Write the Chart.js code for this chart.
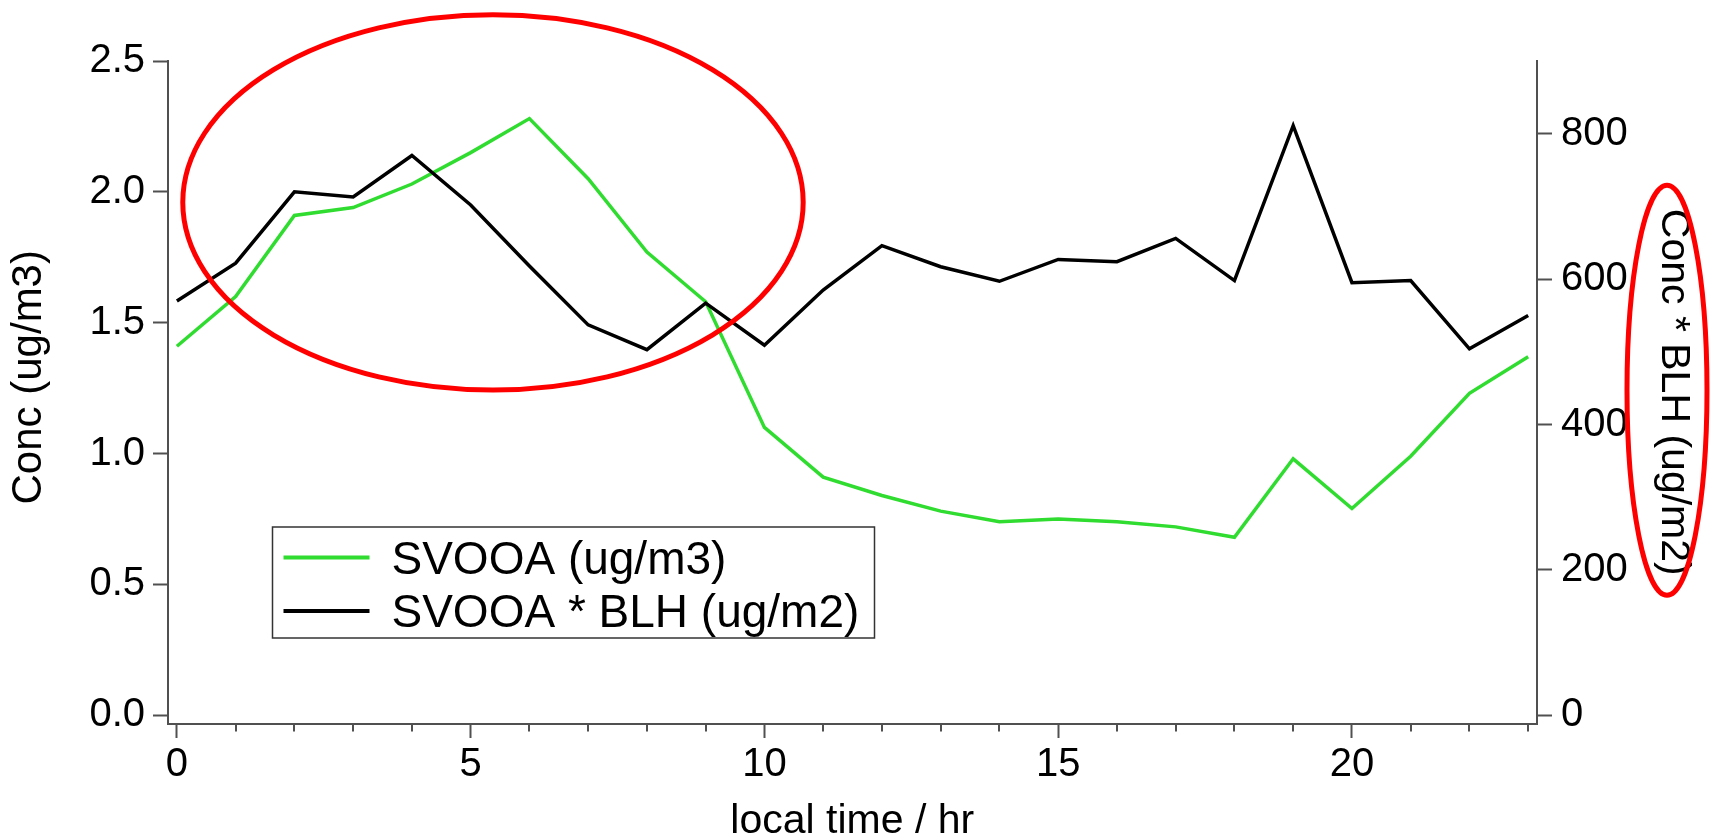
<!DOCTYPE html>
<html>
<head>
<meta charset="utf-8">
<script src="https://cdn.jsdelivr.net/npm/chart.js@4.4.1/dist/chart.umd.min.js"></script>
<style>
  html, body { margin: 0; padding: 0; background: #fff; }
  #wrap { width: 1719px; height: 839px; }
</style>
</head>
<body>
<div id="wrap"><canvas id="diurnalChart" width="1719" height="839"></canvas></div>
<script>
// diurnal cycle, hour of day (local time)
const hours = [0, 1, 2, 3, 4, 5, 6, 7, 8, 9, 10, 11, 12, 13, 14, 15, 16, 17, 18, 19, 20, 21, 22, 23];

// SVOOA concentration (ug/m3), left axis
const svooa = [1.41, 1.60, 1.91, 1.94, 2.03, 2.15, 2.28, 2.05, 1.77, 1.58, 1.10, 0.91,
               0.84, 0.78, 0.74, 0.75, 0.74, 0.72, 0.68, 0.98, 0.79, 0.99, 1.23, 1.37];

// SVOOA * boundary layer height (ug/m2), right axis
const svooaBlh = [570, 622, 720, 713, 770, 702, 618, 537, 503, 567, 509, 585,
                  646, 617, 597, 627, 624, 656, 598, 811, 595, 598, 504, 550];

const xMajorTicks = [0, 5, 10, 15, 20];
const leftTicks = [0, 0.5, 1.0, 1.5, 2.0, 2.5];
const rightTicks = [0, 200, 400, 600, 800];

const FONT = "'Liberation Sans', Arial, Helvetica, sans-serif";
const AXIS = '#505050';
const GREEN = '#2fdc2f';

// minor tick marks on the time axis, one per hour
const minorTicks = {
  id: 'minorTicks',
  afterDraw(chart) {
    const ctx = chart.ctx, x = chart.scales.x, y0 = chart.chartArea.bottom;
    ctx.save();
    ctx.strokeStyle = AXIS;
    ctx.lineWidth = 2;
    hours.forEach(h => {
      if (xMajorTicks.includes(h)) return;
      const px = Math.round(x.getPixelForValue(h));
      ctx.beginPath();
      ctx.moveTo(px, y0);
      ctx.lineTo(px, y0 + 8);
      ctx.stroke();
    });
    ctx.restore();
  }
};

// left axis title, sitting a little above the middle of the axis
const leftTitle = {
  id: 'leftTitle',
  afterDraw(chart) {
    const ctx = chart.ctx, y = chart.scales.y;
    ctx.save();
    ctx.translate(y.left + 29, (y.top + y.bottom) / 2 - 15);
    ctx.rotate(-Math.PI / 2);
    ctx.font = '42px ' + FONT;
    ctx.fillStyle = '#000';
    ctx.textAlign = 'center';
    ctx.textBaseline = 'middle';
    ctx.fillText('Conc (ug/m3)', 0, 0);
    ctx.restore();
  }
};

// boxed legend sitting inside the plot
const boxLegend = {
  id: 'boxLegend',
  afterDraw(chart) {
    const ctx = chart.ctx, area = chart.chartArea;
    const left = area.left + 105, top = area.top + 466, w = 602, h = 111;
    ctx.save();
    ctx.fillStyle = '#fff';
    ctx.fillRect(left, top, w, h);
    ctx.strokeStyle = '#333';
    ctx.lineWidth = 1.5;
    ctx.strokeRect(left, top, w, h);
    ctx.font = '46px ' + FONT;
    ctx.textBaseline = 'alphabetic';
    ctx.textAlign = 'left';
    const rows = [chart.data.datasets[0], chart.data.datasets[1]];
    rows.forEach((ds, i) => {
      const ly = top + 30.5 + i * 53.5;
      ctx.strokeStyle = ds.borderColor;
      ctx.lineWidth = 4;
      ctx.beginPath();
      ctx.moveTo(left + 11, ly);
      ctx.lineTo(left + 97, ly);
      ctx.stroke();
      ctx.fillStyle = '#000';
      ctx.fillText(ds.label, left + 119, ly + 16);
    });
    ctx.restore();
  }
};

// red ellipses marking the morning peak and the right-hand axis title
const highlights = {
  id: 'highlights',
  afterDraw(chart) {
    const ctx = chart.ctx, x = chart.scales.x, y = chart.scales.y, y1 = chart.scales.y1;
    ctx.save();
    ctx.strokeStyle = '#ff0000';
    ctx.lineWidth = 5;
    const cx = x.getPixelForValue(5.38), cy = y.getPixelForValue(1.96);
    const rx = x.getPixelForValue(5.38 + 5.28) - cx;
    const ry = cy - y.getPixelForValue(1.96 + 0.717);
    ctx.beginPath();
    ctx.ellipse(cx, cy, rx, ry, 0, 0, Math.PI * 2);
    ctx.stroke();
    ctx.beginPath();
    ctx.ellipse(y1.right - 52, (y1.top + y1.bottom) / 2 - 2, 40, 205, 0, 0, Math.PI * 2);
    ctx.stroke();
    ctx.restore();
  }
};

new Chart(document.getElementById('diurnalChart').getContext('2d'), {
  type: 'line',
  data: {
    datasets: [
      {
        label: 'SVOOA (ug/m3)',
        data: hours.map((h, i) => ({ x: h, y: svooa[i] })),
        yAxisID: 'y',
        borderColor: GREEN,
        borderWidth: 3.5,
        pointRadius: 0,
        tension: 0,
        order: 1
      },
      {
        label: 'SVOOA * BLH (ug/m2)',
        data: hours.map((h, i) => ({ x: h, y: svooaBlh[i] })),
        yAxisID: 'y1',
        borderColor: '#000000',
        borderWidth: 3.5,
        pointRadius: 0,
        tension: 0,
        order: 0
      }
    ]
  },
  options: {
    responsive: false,
    animation: false,
    devicePixelRatio: 1,
    layout: { padding: { top: 61, left: 0, right: 0, bottom: 0 } },
    plugins: { legend: { display: false }, tooltip: { enabled: false } },
    scales: {
      x: {
        type: 'linear',
        min: -0.16,
        max: 23.15,
        afterBuildTicks: s => { s.ticks = xMajorTicks.map(v => ({ value: v })); },
        afterFit: s => { s.height = 115.5; },
        border: { display: true, color: AXIS, width: 2 },
        grid: { display: true, drawOnChartArea: false, drawTicks: true, tickLength: 14.5, tickColor: AXIS, tickWidth: 2 },
        ticks: { color: '#000', font: { family: FONT, size: 40 }, padding: 3, maxRotation: 0 },
        title: { display: true, text: 'local time / hr', color: '#000', font: { family: FONT, size: 41, lineHeight: 0.8 }, padding: { top: 0, bottom: 1 } }
      },
      y: {
        position: 'left',
        min: -0.0313,
        max: 2.5,
        afterBuildTicks: s => { s.ticks = leftTicks.map(v => ({ value: v })); },
        afterFit: s => { s.width = 167.5; },
        border: { display: true, color: AXIS, width: 2 },
        grid: { display: true, drawOnChartArea: false, drawTicks: true, tickLength: 14.5, tickColor: AXIS, tickWidth: 2 },
        ticks: { color: '#000', font: { family: FONT, size: 40 }, padding: 8, callback: v => v.toFixed(1) },
        title: { display: false }
      },
      y1: {
        position: 'right',
        min: -11.3,
        max: 900,
        afterBuildTicks: s => { s.ticks = rightTicks.map(v => ({ value: v })); },
        afterFit: s => { s.width = 182; },
        border: { display: true, color: AXIS, width: 2 },
        grid: { display: true, drawOnChartArea: false, drawTicks: true, tickLength: 15, tickColor: AXIS, tickWidth: 2 },
        ticks: { color: '#000', font: { family: FONT, size: 40 }, padding: 9, callback: v => String(v) },
        title: { display: true, text: 'Conc * BLH (ug/m2)', color: '#000', font: { family: FONT, size: 41 }, padding: { top: 21, bottom: 0 } }
      }
    }
  },
  plugins: [minorTicks, leftTitle, boxLegend, highlights]
});
</script>
</body>
</html>
